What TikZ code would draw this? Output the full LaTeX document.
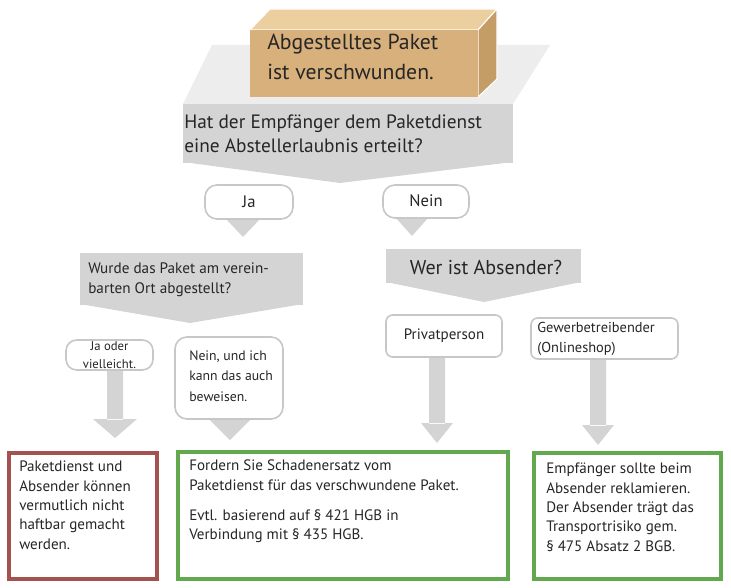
\documentclass[tikz,border=0pt]{standalone}
\usepackage{fontspec}
\setmainfont{PT Sans}
\begin{document}
\begin{tikzpicture}[x=0.75pt,y=-0.75pt,
  gr/.style={fill=black!17,draw=none},
  bub/.style={draw=black!22,line width=1.2pt,fill=white,rounded corners=9pt},
  txt/.style={anchor=north west,align=left,inner sep=0pt,text=black!85},
  res/.style={line width=2.6pt,fill=white}]
\definecolor{tanF}{HTML}{D8B07C}\definecolor{tanT}{HTML}{EBCF9F}\definecolor{tanR}{HTML}{C49C66}
\definecolor{redb}{HTML}{A3524F}\definecolor{grnb}{HTML}{62A84F}
\useasboundingbox (0,0) rectangle (731,588);
% big question shape
\fill[black!7] (183,104) -- (212,45) -- (550,45) -- (513,104) -- cycle;
\fill[gr] (183,104) rectangle (513,163);
\fill[gr] (183,162) -- (513,162) -- (340,183) -- cycle;
% box
\fill[tanT,draw=white,line width=0.8pt] (250,30) -- (270,9) -- (497,9) -- (478,30) -- cycle;
\fill[tanR,draw=white,line width=0.8pt] (478,30) -- (497,9) -- (497,79) -- (478,97) -- cycle;
\fill[tanF] (250,30) rectangle (478,97);
\node[txt,font=\fontsize{16.3}{22}\selectfont] (paket) at (267,34) {Abgestelltes Paket\\ist verschwunden.};
\node[txt,font=\fontsize{14.5}{18}\selectfont] (q1) at (184,115) {Hat der Empfänger dem Paketdienst\\eine Abstellerlaubnis erteilt?};
% Ja / Nein
\fill[gr] (226,219) -- (260,219) -- (243,237) -- cycle;
\fill[gr] (395,217) -- (429,217) -- (412,236) -- cycle;
\draw[bub] (205,185) rectangle (293,219);
\node[font=\fontsize{12.5}{14}\selectfont,text=black!85] (ja) at (249,202) {Ja};
\draw[bub] (383,185) rectangle (469,218);
\node[font=\fontsize{12.5}{14}\selectfont,text=black!85] (nein) at (426,201) {Nein};
% q2
\fill[gr] (80,253) rectangle (303,305);
\fill[gr] (80,304) -- (303,304) -- (190,323) -- cycle;
\node[txt,font=\fontsize{11.4}{15}\selectfont] (q2) at (88,262) {Wurde das Paket am verein-\\barten Ort abgestellt?};
% q3
\fill[gr] (386,249) rectangle (581,283);
\fill[gr] (386,282) -- (581,282) -- (484,302) -- cycle;
\node[font=\fontsize{15}{16}\selectfont,text=black!85] (q3) at (486,267) {Wer ist Absender?};
% arrows
\fill[gr] (107,370) rectangle (123,420) (93,419) -- (137,419) -- (115,438) -- cycle;
\fill[gr] (210,420) -- (250,420) -- (230,440) -- cycle;
\fill[gr] (429,357) rectangle (445,424) (421,423) -- (453,423) -- (437,443) -- cycle;
\fill[gr] (590,359) rectangle (606,426) (582,425) -- (614,425) -- (598,445) -- cycle;
% answer bubbles
\draw[bub,rounded corners=8pt] (66,340) rectangle (153,370);
\node[font=\fontsize{9.5}{13}\selectfont,align=center,text=black!85] (jo) at (109.5,355) {Ja oder\\vielleicht.};
\draw[bub] (175,337) rectangle (283,419);
\node[txt,font=\fontsize{10.3}{15.5}\selectfont] (nu) at (189,350) {Nein, und ich\\kann das auch\\beweisen.};
\draw[bub,rounded corners=5pt] (386,315) rectangle (502,357);
\node[font=\fontsize{11.3}{13}\selectfont,text=black!85] (pp) at (444,336) {Privatperson};
\draw[bub,rounded corners=5pt] (531,318) rectangle (678,359);
\node[txt,font=\fontsize{10.8}{15}\selectfont] (gw) at (537,322) {Gewerbetreibender\\(Onlineshop)};
% results
\draw[res,draw=redb] (9,453) rectangle (157,579);
\node[txt,font=\fontsize{11.3}{14.5}\selectfont] (r1) at (19,461) {Paketdienst und\\Absender können\\vermutlich nicht\\haftbar gemacht\\werden.};
\draw[res,draw=grnb] (178,452) rectangle (508,579);
\node[txt,font=\fontsize{11.3}{14.5}\selectfont] (r2) at (189,460) {Fordern Sie Schadenersatz vom\\Paketdienst für das verschwundene Paket.\\[8pt]Evtl. basierend auf § 421 HGB in\\Verbindung mit § 435 HGB.};
\draw[res,draw=grnb] (534,453) rectangle (721,579);
\node[txt,font=\fontsize{11.3}{14.5}\selectfont] (r3) at (546,463) {Empfänger sollte beim\\Absender reklamieren.\\Der Absender trägt das\\Transportrisiko gem.\\§ 475 Absatz 2 BGB.};
\end{tikzpicture}
\end{document}
